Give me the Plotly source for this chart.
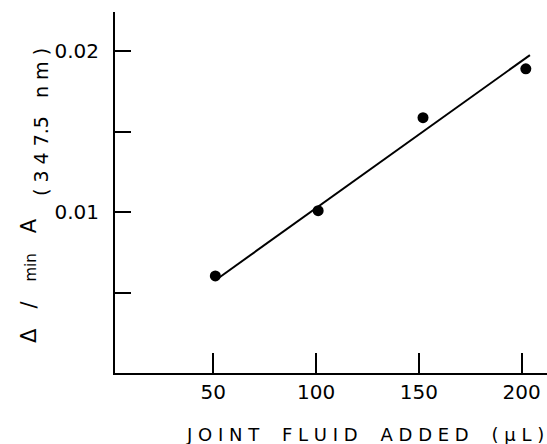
import plotly.graph_objects as go

# data
fluid_ul = [51, 101, 152, 202]
rate = [0.00606, 0.0101, 0.01586, 0.01888]
fit_x = [52.4, 204]
fit_y = [0.00592, 0.01973]
x_ticks = [50, 100, 150, 200]
x_ticktext = ["50", "100", "150", "200"]
y_ticks = [0.005, 0.01, 0.015, 0.02]
y_ticktext = ["", "0.01", "", "0.02"]

FONT = "DejaVu Sans"
NB = "\u00a0"

def spaced(s, gap=1, word=1):
    out = []
    for ch in s:
        if ch == " ":
            out.append(NB * word)
        else:
            out.append(ch)
    return (NB * gap).join(out)

fig = go.Figure()
fig.add_trace(go.Scatter(x=fit_x, y=fit_y, mode="lines",
                         line=dict(color="black", width=2), showlegend=False))
fig.add_trace(go.Scatter(x=fluid_ul, y=rate, mode="markers",
                         marker=dict(color="black", size=11), showlegend=False))

W, H = 547, 444
L, R, T, B = 115, 0, 12, 71

fig.update_layout(
    width=W, height=H,
    margin=dict(l=L, r=R, t=T, b=B, pad=0),
    paper_bgcolor="white", plot_bgcolor="white",
    font=dict(family=FONT, color="black", size=20),
    xaxis=dict(range=[2.2, 212.3], showgrid=False, zeroline=False,
               showline=True, linecolor="black", linewidth=2,
               ticks="inside", ticklen=20, tickwidth=2, tickcolor="black",
               tickvals=x_ticks, ticktext=x_ticktext,
               tickfont=dict(family=FONT, size=20), ticklabelstandoff=0),
    yaxis=dict(range=[0.00005, 0.0224], showgrid=False, zeroline=False,
               showline=True, linecolor="black", linewidth=2,
               ticks="inside", ticklen=16, tickwidth=2, tickcolor="black",
               tickvals=y_ticks, ticktext=y_ticktext,
               tickfont=dict(family=FONT, size=20), ticklabelstandoff=10),
)

PW, PH = W - L - R, H - T - B

fig.add_annotation(text=spaced("JOINT FLUID ADDED (μL)", 1, 2),
                   xref="paper", yref="paper", showarrow=False,
                   x=(365 - L) / PW, y=-(434 - (H - B)) / PH,
                   xanchor="center", yanchor="middle",
                   font=dict(family=FONT, size=18))

fig.add_annotation(text="Δ" + NB * 3 + "/" + NB * 3 + "<span style='font-size:15px'>min</span>" + NB * 3 + "A",
                   xref="paper", yref="paper", showarrow=False,
                   x=-(L - 29) / PW, y=((H - B) - 281) / PH,
                   xanchor="center", yanchor="middle", textangle=-90,
                   font=dict(family=FONT, size=21))

fig.add_annotation(text="(" + NB + spaced("347", 1) + ".5" + NB * 3 + "n" + NB + "m" + NB + ")",
                   xref="paper", yref="paper", showarrow=False,
                   x=-(L - 41) / PW, y=((H - B) - 122) / PH,
                   xanchor="center", yanchor="middle", textangle=-90,
                   font=dict(family=FONT, size=19))

fig.write_html("out.html", config={"displayModeBar": False},
               post_script="document.body.style.margin='0px';document.body.style.overflow='hidden';")
